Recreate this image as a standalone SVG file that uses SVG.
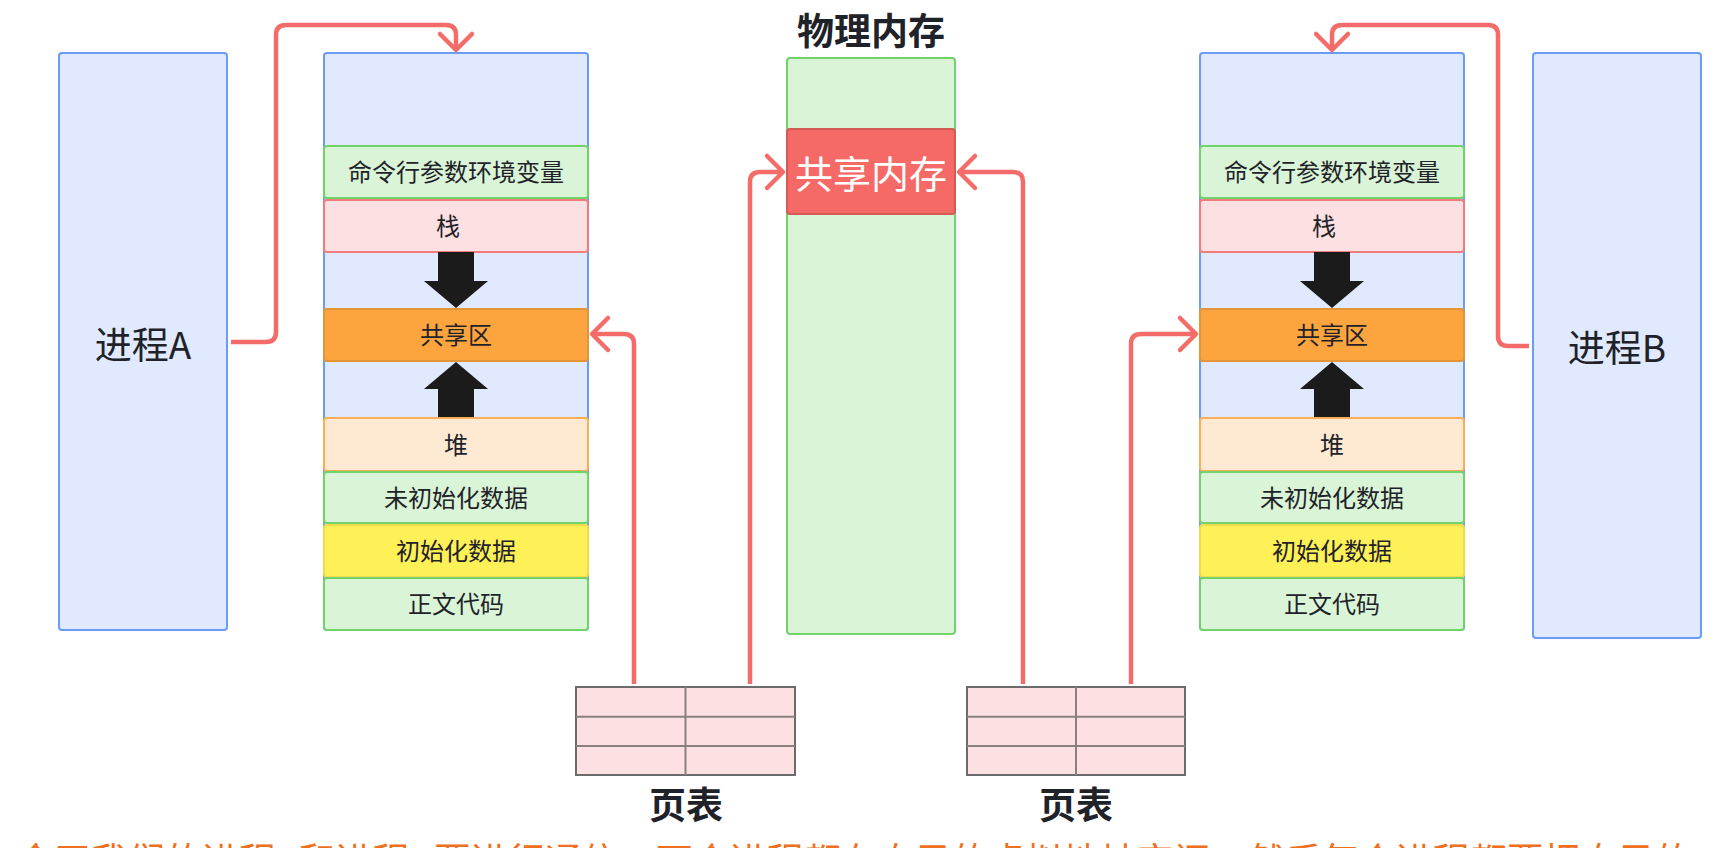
<svg xmlns="http://www.w3.org/2000/svg" width="1734" height="848" viewBox="0 0 1734 848">
<style>
text{font-family:"Noto Sans CJK SC","Noto Sans",sans-serif;fill:#1f2329;text-anchor:middle}
.lbl{font-size:24px}
.big{font-size:37px}
.bold{font-size:37px;font-weight:bold}
.blue{fill:#e0e9fd;stroke:#6a9bf6;stroke-width:2}
.green{fill:#d9f4d6;stroke:#72d36b;stroke-width:2}
.pink{fill:#fde1e2;stroke:#f27c7c;stroke-width:2}
.orange{fill:#fca43d;stroke:#e3953a;stroke-width:2}
.peach{fill:#fee9d2;stroke:#fcae59;stroke-width:2}
.yellow{fill:#fef057;stroke:#eedc4c;stroke-width:2}
.shm{fill:#f56a66;stroke:#d45a56;stroke-width:2}
.blk{fill:#1b1b1b}
.conn{fill:none;stroke:#f46c6a;stroke-width:4.5;stroke-linejoin:round}
.pt{fill:#fde1e2;stroke:#6b6b6b;stroke-width:2}
.ptl{stroke:#8a7f7f;stroke-width:2}
</style>
<defs>
<marker id="chev" markerUnits="userSpaceOnUse" viewBox="-20 -20 24 40" markerWidth="24" markerHeight="40" refX="0" refY="0" orient="auto" overflow="visible">
<path d="M-16,-16 L0,0 L-16,16" fill="none" stroke="#f46c6a" stroke-width="4.5" stroke-linecap="round" stroke-linejoin="round"/>
</marker>
</defs>
<rect width="1734" height="848" fill="#ffffff"/>

<g id="procA">
<rect class="blue" x="59" y="53" width="168" height="577" rx="3"/>
<text class="big" x="143" y="359">进程A</text>
</g>

<g id="vmA">
<rect class="blue" x="324" y="53" width="264" height="577" rx="3"/>
<g id="vmA-args"><rect class="green" x="324" y="146" width="264" height="52" rx="3"/><text class="lbl" x="456" y="181">命令行参数环境变量</text></g>
<g id="vmA-stack"><rect class="pink" x="324" y="200" width="264" height="52" rx="3"/><text class="lbl" x="448" y="235">栈</text></g>
<polygon class="blk" points="438,252 474,252 474,281 488,281 456,308 424,281 438,281"/>
<g id="vmA-shared"><rect class="orange" x="324" y="309" width="264" height="52" rx="3"/><text class="lbl" x="456" y="344">共享区</text></g>
<polygon class="blk" points="456,362 488,389 474,389 474,418 438,418 438,389 424,389"/>
<g id="vmA-heap"><rect class="peach" x="324" y="418" width="264" height="53" rx="3"/><text class="lbl" x="456" y="453.5">堆</text></g>
<g id="vmA-bss"><rect class="green" x="324" y="472" width="264" height="51" rx="3"/><text class="lbl" x="456" y="506.5">未初始化数据</text></g>
<g id="vmA-data"><rect class="yellow" x="324" y="525" width="264" height="52" rx="3"/><text class="lbl" x="456" y="560">初始化数据</text></g>
<g id="vmA-text"><rect class="green" x="324" y="578" width="264" height="52" rx="3"/><text class="lbl" x="456" y="613">正文代码</text></g>
</g>

<g id="phys">
<text class="bold" x="871" y="45">物理内存</text>
<rect class="green" x="787" y="58" width="168" height="576" rx="3"/>
<g id="shm"><rect class="shm" x="787" y="129" width="168" height="85" rx="3"/><text class="big" x="871" y="188" style="fill:#ffffff;font-size:38px">共享内存</text></g>
</g>

<g id="vmB">
<rect class="blue" x="1200" y="53" width="264" height="577" rx="3"/>
<g id="vmB-args"><rect class="green" x="1200" y="146" width="264" height="52" rx="3"/><text class="lbl" x="1332" y="181">命令行参数环境变量</text></g>
<g id="vmB-stack"><rect class="pink" x="1200" y="200" width="264" height="52" rx="3"/><text class="lbl" x="1324" y="235">栈</text></g>
<polygon class="blk" points="1314,252 1350,252 1350,281 1364,281 1332,308 1300,281 1314,281"/>
<g id="vmB-shared"><rect class="orange" x="1200" y="309" width="264" height="52" rx="3"/><text class="lbl" x="1332" y="344">共享区</text></g>
<polygon class="blk" points="1332,362 1364,389 1350,389 1350,418 1314,418 1314,389 1300,389"/>
<g id="vmB-heap"><rect class="peach" x="1200" y="418" width="264" height="53" rx="3"/><text class="lbl" x="1332" y="453.5">堆</text></g>
<g id="vmB-bss"><rect class="green" x="1200" y="472" width="264" height="51" rx="3"/><text class="lbl" x="1332" y="506.5">未初始化数据</text></g>
<g id="vmB-data"><rect class="yellow" x="1200" y="525" width="264" height="52" rx="3"/><text class="lbl" x="1332" y="560">初始化数据</text></g>
<g id="vmB-text"><rect class="green" x="1200" y="578" width="264" height="52" rx="3"/><text class="lbl" x="1332" y="613">正文代码</text></g>
</g>

<g id="procB">
<rect class="blue" x="1533" y="53" width="168" height="585" rx="3"/>
<text class="big" x="1617" y="362">进程B</text>
</g>

<g id="ptA">
<rect class="pt" x="576" y="687" width="219" height="88"/>
<line class="ptl" x1="576" y1="716.7" x2="795" y2="716.7"/>
<line class="ptl" x1="576" y1="746" x2="795" y2="746"/>
<line class="ptl" x1="685.5" y1="687" x2="685.5" y2="775"/>
<text class="bold" x="686" y="819">页表</text>
</g>

<g id="ptB">
<rect class="pt" x="967" y="687" width="218" height="88"/>
<line class="ptl" x1="967" y1="716.7" x2="1185" y2="716.7"/>
<line class="ptl" x1="967" y1="746" x2="1185" y2="746"/>
<line class="ptl" x1="1076" y1="687" x2="1076" y2="775"/>
<text class="bold" x="1076" y="819">页表</text>
</g>

<g id="connectors">
<path class="conn" marker-end="url(#chev)" d="M231,342 H266 Q276,342 276,332 V35 Q276,25 286,25 H446 Q456,25 456,35 V50"/>
<path class="conn" marker-end="url(#chev)" d="M1529,346 H1508 Q1498,346 1498,336 V35 Q1498,25 1488,25 H1342 Q1332,25 1332,35 V50"/>
<path class="conn" marker-end="url(#chev)" d="M634,684 V344 Q634,334 624,334 H592"/>
<path class="conn" marker-end="url(#chev)" d="M750,684 V182 Q750,172 760,172 H783"/>
<path class="conn" marker-end="url(#chev)" d="M1023,684 V182 Q1023,172 1013,172 H959"/>
<path class="conn" marker-end="url(#chev)" d="M1131,684 V344 Q1131,334 1141,334 H1196"/>
</g>

<text x="17" y="875" style="font-size:37px;fill:#ee7020;text-anchor:start">今天我们的进程A和进程B要进行通信，两个进程都有自己的虚拟地址空间，然后每个进程都要把自己的</text>
</svg>
